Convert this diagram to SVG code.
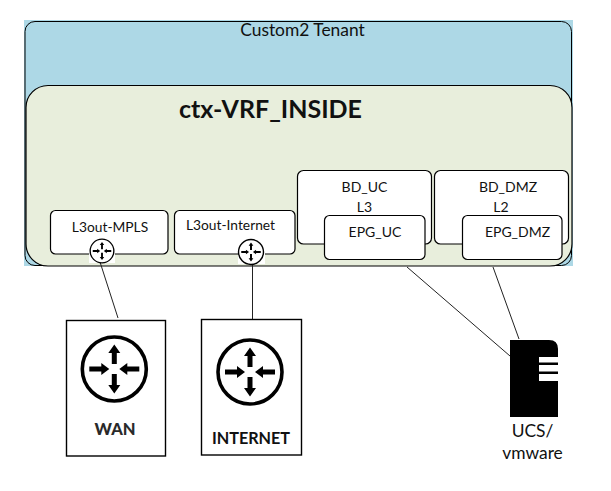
<svg xmlns="http://www.w3.org/2000/svg" width="611" height="491" viewBox="0 0 611 491">
<style>
text{font-family:"Lato","Liberation Sans",sans-serif;fill:#111;text-anchor:middle;font-size:14px}
.box{fill:#fff;stroke:#000;stroke-width:1.2}
.plain{fill:#fff;stroke:#000;stroke-width:1.4}
.conn{stroke:#222;stroke-width:1;fill:none}
.b{font-weight:700}
</style>
<defs>
<g id="router">
<circle r="32" fill="#fff" stroke="#000" stroke-width="3.600"/>
<g fill="#000" stroke="none">
<path d="M-2.500-5V-16H-6L0-24.500L6-16H2.500V-5Z"/>
<path d="M-2.500 5V16H-6L0 24.500L6 16H2.500V5Z"/>
<path d="M-25-2.500H-13V-6L-5 0L-13 6V2.500H-25Z"/>
<path d="M25-2.500H13V-6L5 0L13 6V2.500H25Z"/>
</g>
</g>
</defs>
<rect width="611" height="491" fill="#fff"/>
<g id="tenant">
<rect x="24" y="20" width="549" height="246" fill="#add8e6"/>
<rect x="25" y="21.500" width="546.500" height="244" rx="10" fill="#add8e6" stroke="#000" stroke-width="1"/>
<text x="302.500" y="36" style="font-size:17.400px">Custom2 Tenant</text>
</g>
<g id="vrf">
<rect x="26" y="85.500" width="546" height="180.500" rx="22" fill="#e8eedc" stroke="#000" stroke-width="1.200"/>
<text x="270.500" y="118" class="b" style="font-size:25px">ctx-VRF_INSIDE</text>
</g>
<g id="connectors">
<path class="conn" d="M100 262L118 318"/>
<path class="conn" d="M252.500 265V319"/>
<path class="conn" d="M407 267L510 356"/>
<path class="conn" d="M493 267L519 339"/>
</g>
<g id="l3out-mpls">
<rect class="box" x="50.500" y="210.500" width="117.500" height="43.500" rx="5"/>
<text x="110" y="232" style="font-size:13.800px">L3out-MPLS</text>
<rect x="89" y="238" width="26" height="25" fill="#fff"/>
<use href="#router" transform="translate(102 251) scale(.37)"/>
</g>
<g id="l3out-internet">
<rect class="box" x="174.500" y="210.500" width="120.500" height="43.500" rx="5"/>
<text x="230.500" y="230" style="font-size:13.800px">L3out-Internet</text>
<rect x="238" y="239" width="27" height="25" fill="#fff"/>
<use href="#router" transform="translate(251 252) scale(.39)"/>
</g>
<g id="bd-uc">
<rect class="box" x="297.500" y="170.500" width="134" height="73.500" rx="6"/>
<text x="364.500" y="192">BD_UC</text>
<text x="364.500" y="212">L3</text>
</g>
<g id="bd-dmz">
<rect class="box" x="434.500" y="170.500" width="134" height="73.500" rx="6"/>
<text x="508" y="192">BD_DMZ</text>
<text x="501" y="212">L2</text>
</g>
<g id="epg-uc">
<rect class="box" x="324.500" y="215.500" width="100.500" height="44" rx="5"/>
<text x="375" y="237">EPG_UC</text>
</g>
<g id="epg-dmz">
<rect class="box" x="462.500" y="215.500" width="99.500" height="44" rx="5"/>
<text x="517.500" y="237">EPG_DMZ</text>
</g>
<g id="wan">
<rect class="plain" x="66.500" y="320.500" width="99" height="135.500"/>
<use href="#router" transform="translate(114.300 369)"/>
<text x="115" y="435" style="font-size:16.500px;font-weight:900;fill:#2a2a2a">WAN</text>
</g>
<g id="internet">
<rect class="plain" x="201.500" y="319.500" width="100" height="135.500"/>
<use href="#router" transform="translate(250 372)"/>
<text x="251" y="444" class="b" style="font-size:16.200px">INTERNET</text>
</g>
<g id="ucs">
<path fill="#000" d="M510 340H549Q558 340 558 349V417H510Z"/>
<rect x="539" y="357" width="19" height="24" fill="#fff"/>
<rect x="539" y="362.500" width="19" height="2.500" fill="#000"/>
<rect x="539" y="371.500" width="19" height="2.500" fill="#000"/>
<text x="532.500" y="437" style="font-size:17.400px">UCS/</text>
<text x="532.500" y="459" style="font-size:17.400px">vmware</text>
</g>
</svg>
